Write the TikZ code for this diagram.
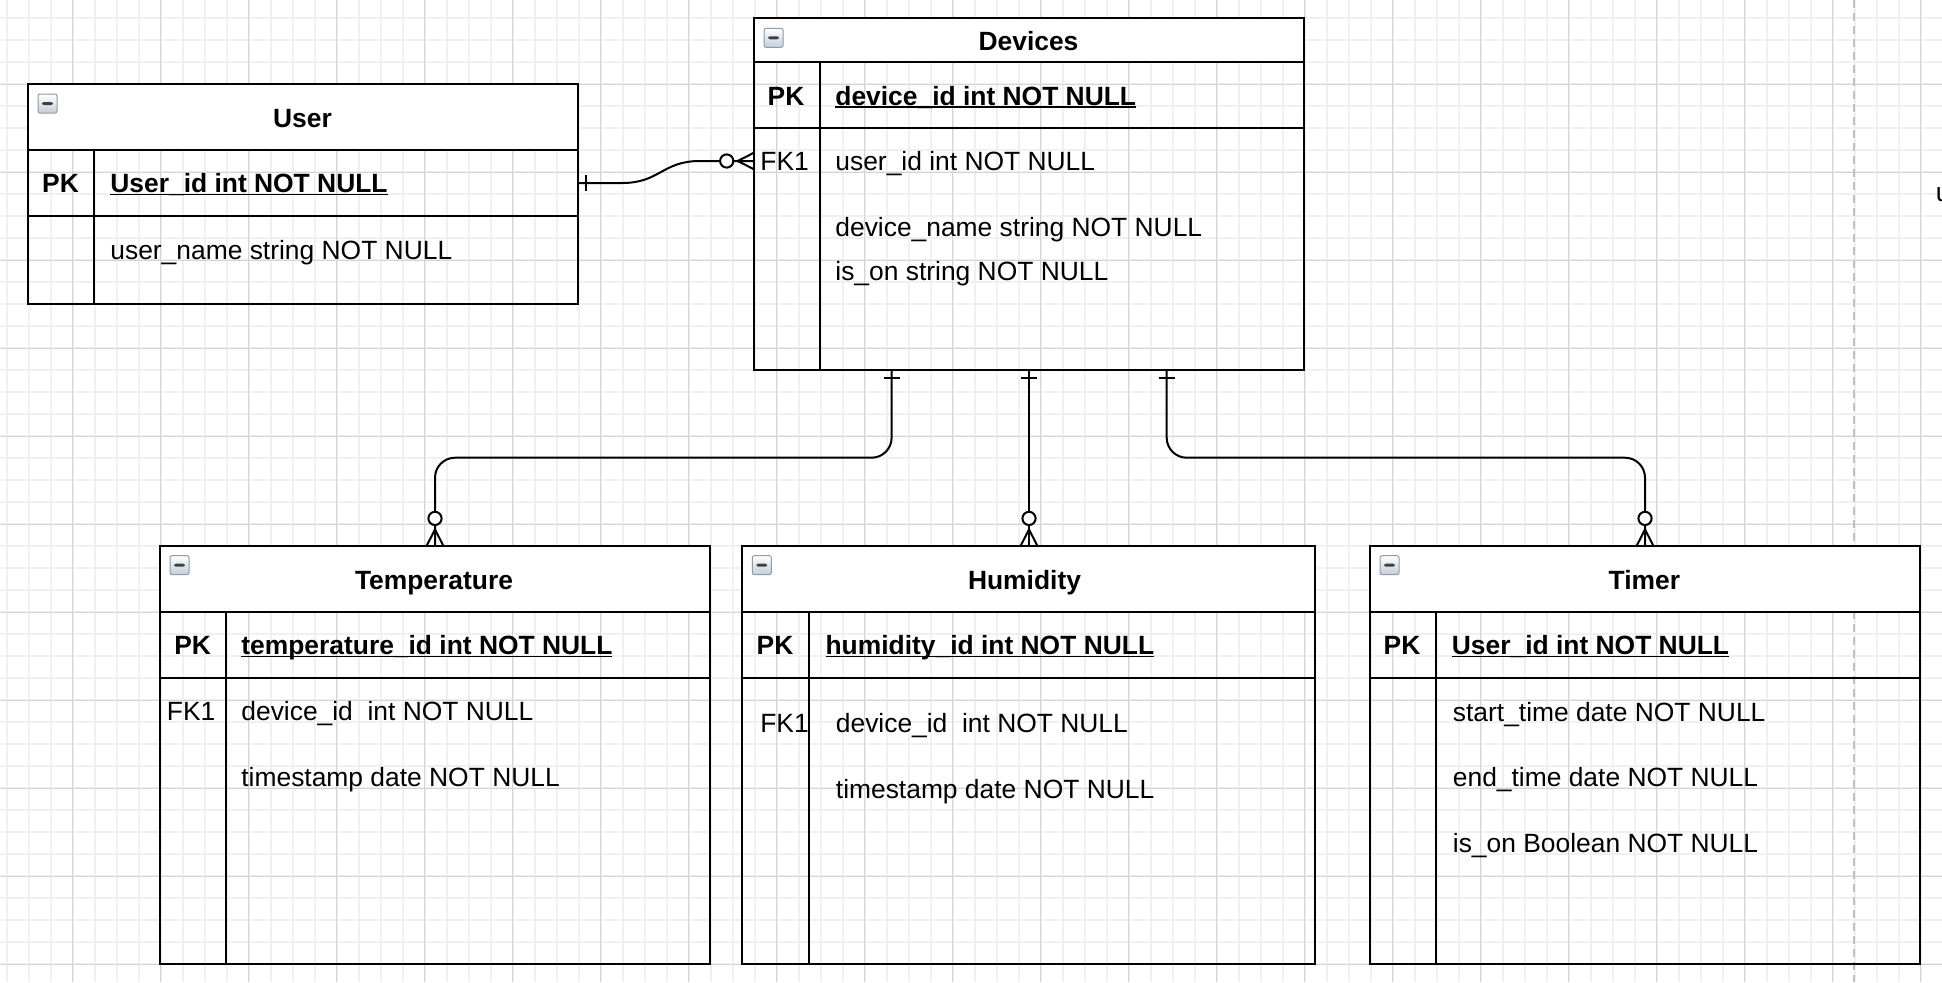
\documentclass[tikz,border=0pt]{standalone}
\usepackage{fontspec}
\setmainfont{Liberation Sans}
\newcommand\fsz{\fontsize{13.2}{15.8}\selectfont}
\newcommand\ulx[1]{\setbox0\hbox{#1}\rlap{\rule[-0.1em]{\wd0}{0.055em}}\box0}
\definecolor{gridminor}{RGB}{240,240,240}
\definecolor{gridmajor}{RGB}{212,212,212}
\definecolor{pagebreak}{RGB}{192,192,192}
\definecolor{iconedge}{RGB}{140,155,175}
\definecolor{iconlow}{RGB}{196,205,216}
\newcommand\ertbl[8]{%
  \fill[white] (#2,#3) rectangle ++(#4,#6);
  \node[tbl, minimum width={#4*0.5pt}, minimum height={#5*0.5pt}] (#1) at (#2,#3) {};
  \draw[tline] (#1.north west) ++(0,#6) -- ++(#4,0);
  \draw[tline] (#1.north west) ++(0,#6+#7) -- ++(#4,0);
  \draw[tline] (#1.north west) ++(#8,#6) -- ++(0,#5-#6);
  \node[collapse] (#1-icon) at ([xshift=9.75pt,yshift=-9.75pt]#1.north west) {};
}
\begin{document}
\begin{tikzpicture}[x=0.5pt,y=-0.5pt,
  tbl/.style={draw, line width=1pt, rectangle, inner sep=0pt, outer sep=0pt, anchor=north west},
  tline/.style={line width=1pt},
  ttl/.style={font=\fsz\bfseries, anchor=base, inner sep=0pt},
  fld/.style={font=\fsz, anchor=base west, inner sep=0pt},
  bfld/.style={font=\fsz\bfseries, anchor=base west, inner sep=0pt},
  keyb/.style={font=\fsz\bfseries, anchor=base, inner sep=0pt},
  keyr/.style={font=\fsz, anchor=base, inner sep=0pt},
  conn/.style={line width=1pt, rounded corners=10pt},
  collapse/.style={rectangle, rounded corners=1pt, minimum size=9.5pt, inner sep=0pt,
    draw=iconedge, line width=0.5pt, top color=white, bottom color=iconlow,
    path picture={\fill[black!75] ([xshift=-2.7pt,yshift=-0.75pt]path picture bounding box.center)
      rectangle ([xshift=2.7pt,yshift=0.75pt]path picture bounding box.center);}},
  one/.pic={\draw[line width=1pt] (4.2pt,-4pt) -- (4.2pt,4pt);},
  zmany/.pic={\draw[line width=1pt] (0,4.15pt) -- (8.15pt,0) -- (0,-4.15pt);
              \draw[line width=1pt, fill=white] (13.65pt,0) circle[radius=3.3pt];}
]
\useasboundingbox (0,0) rectangle (1942,982);
\fill[white] (0,0) rectangle (1942,982);
% grid
\foreach \i in {0,...,88} \draw[gridminor, line width=0.8pt] ({6.7+22*\i},0) -- ++(0,982);
\foreach \j in {1,...,44} \draw[gridminor, line width=0.8pt] (0,{-4+22*\j}) -- ++(1942,0);
\foreach \i in {0,...,21} \draw[gridmajor, line width=0.5pt] ({72.7+88*\i},0) -- ++(0,982);
\foreach \j in {0,...,10} \draw[gridmajor, line width=0.5pt] (0,{84+88*\j}) -- ++(1942,0);
% page break line
\draw[pagebreak, line width=1pt, dash pattern=on 4pt off 2.5pt] (1854,0) -- (1854,982);

% tables
\ertbl{user}{28}{84}{550}{220}{66}{66}{66}
\ertbl{devices}{754}{18.3}{550}{351.7}{43.7}{66}{66}
\ertbl{temp}{160}{545.7}{550}{418.3}{66}{66}{66}
\ertbl{hum}{742.3}{545.7}{572.4}{418.3}{66}{66}{66.7}
\ertbl{timer}{1370}{545.7}{550}{418.3}{66}{66}{66}

% connectors
\coordinate (ua) at ([yshift=-49.5pt]user.north east);
\coordinate (da) at ([yshift=-71.35pt]devices.north west);
\draw[line width=1pt] (ua) -- ++(44,0) .. controls +(38,0) and +(-38,0) .. ([xshift=-27pt]da) -- (da);
\pic at (ua) {one};
\pic[rotate=180] at (da) {zmany};

\coordinate (d1) at ([xshift=68.8pt]devices.south west);
\coordinate (d3) at ([xshift=206.35pt]devices.south west);
\draw[conn] (d1) -- ++(0,87.7) -| (temp.north);
\draw[conn] (devices.south) -- (devices.south |- hum.north);
\draw[conn] (d3) -- ++(0,87.7) -| (timer.north);
\pic[rotate=-90] at (d1) {one};
\pic[rotate=-90] at (devices.south) {one};
\pic[rotate=-90] at (d3) {one};
\pic[rotate=90] at (temp.north) {zmany};
\pic[rotate=90] at (devices.south |- hum.north) {zmany};
\pic[rotate=90] at (timer.north) {zmany};

% User
\node[ttl] (user-t) at (302.5,127) {User};
\node[keyb] (user-pk) at (60.5,192.7) {PK};
\node[bfld] (user-f0) at (110,192.7) {\ulx{User\_id int NOT NULL}};
\node[fld] (user-f1) at (110,259.3) {user\_name string NOT NULL};

% Devices
\node[ttl] (devices-t) at (1028.5,50) {Devices};
\node[keyb] (devices-pk) at (786,105.3) {PK};
\node[bfld] (devices-f0) at (835,105.3) {\ulx{device\_id int NOT NULL}};
\node[keyr] (devices-fk) at (784.6,170.7) {FK1};
\node[fld] (devices-f1) at (835,170.7) {user\_id int NOT NULL};
\node[fld] (devices-f2) at (835,236.7) {device\_name string NOT NULL};
\node[fld] (devices-f3) at (835,280.7) {is\_on string NOT NULL};

% Temperature
\node[ttl] (temp-t) at (434,589.3) {Temperature};
\node[keyb] (temp-pk) at (192.6,654.3) {PK};
\node[bfld] (temp-f0) at (241,654.3) {\ulx{temperature\_id int NOT NULL}};
\node[keyr] (temp-fk) at (191.1,720.7) {FK1};
\node[fld] (temp-f1) at (241,720.7) {device\_id~~int NOT NULL};
\node[fld] (temp-f2) at (241,786.7) {timestamp date NOT NULL};

% Humidity
\node[ttl] (hum-t) at (1024.5,589.3) {Humidity};
\node[keyb] (hum-pk) at (775,654.3) {PK};
\node[bfld] (hum-f0) at (825.2,654.3) {\ulx{humidity\_id int NOT NULL}};
\node[keyr] (hum-fk) at (784.5,732) {FK1};
\node[fld] (hum-f1) at (835.5,732) {device\_id~~int NOT NULL};
\node[fld] (hum-f2) at (835.5,798.3) {timestamp date NOT NULL};

% Timer
\node[ttl] (timer-t) at (1644.3,589.3) {Timer};
\node[keyb] (timer-pk) at (1402,654.3) {PK};
\node[bfld] (timer-f0) at (1451.5,654.3) {\ulx{User\_id int NOT NULL}};
\node[fld] (timer-f1) at (1452.5,721) {start\_time date NOT NULL};
\node[fld] (timer-f2) at (1452.5,786.7) {end\_time date NOT NULL};
\node[fld] (timer-f3) at (1452.5,852.7) {is\_on Boolean NOT NULL};

% cut-off text at right edge
\node[fld] (edge-u) at (1935.5,201.7) {u};
\end{tikzpicture}
\end{document}
